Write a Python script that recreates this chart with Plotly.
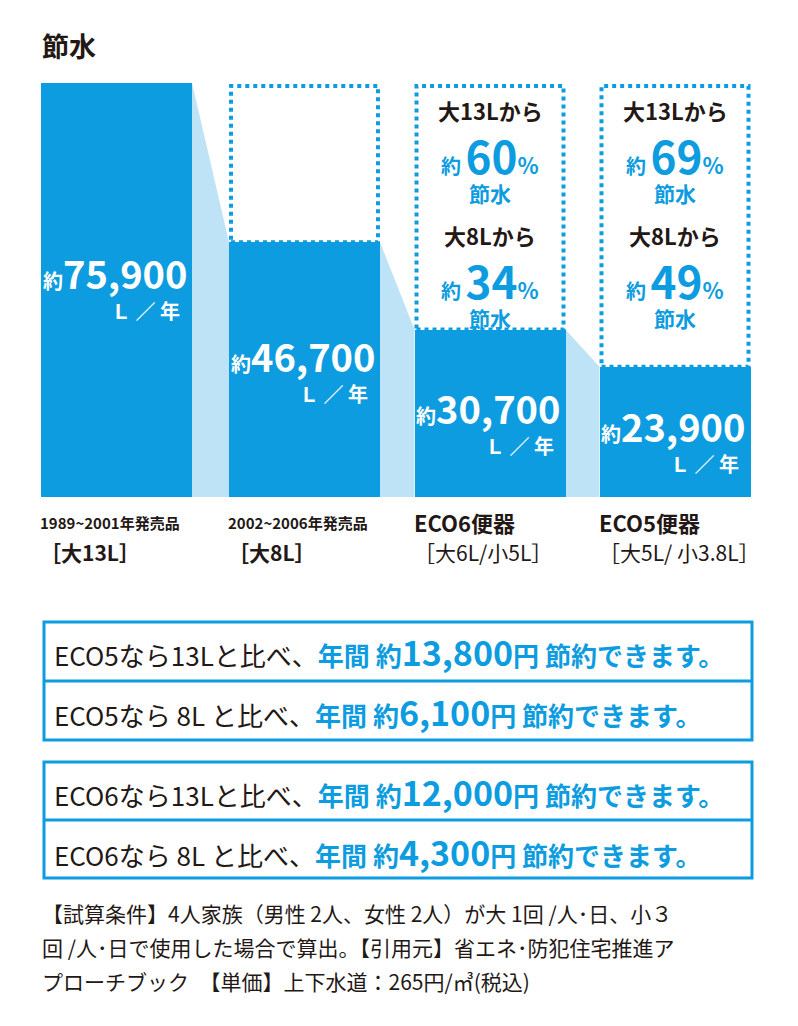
import plotly.graph_objects as go

categories = ["1989~2001年発売品", "2002~2006年発売品", "ECO6便器", "ECO5便器"]
sublabels = ["［大13L］", "［大8L］", "［大6L/小5L］", "［大5L/ 小3.8L］"]
usage = [75900, 46700, 30700, 23900]
save13 = [None, None, 60, 69]
save8 = [None, None, 34, 49]
lines = [
    ("ECO5なら13Lと比べ、", "13,800", "円"),
    ("ECO5なら 8L と比べ、", "6,100", "円"),
    ("ECO6なら13Lと比べ、", "12,000", "円"),
    ("ECO6なら 8L と比べ、", "4,300", "円"),
]

W, H = 798, 1026
OFF = 8  # page body margin
BASE, TOP = 497, 83
SCALE = (BASE - TOP) / usage[0]
def py(p):  # pixel row -> data value
    return (BASE - p) / SCALE

BLUE = "#0e9ce0"
LIGHT = "#bfe3f6"
DARK = "#231815"
FONT = "Noto Sans CJK JP"
xc = [116.5, 304.5, 490, 675]
bw = 151

fig = go.Figure()
shapes, ann = [], []

for i in range(3):
    x0 = xc[i] + bw / 2
    x1 = xc[i + 1] - bw / 2
    shapes.append(dict(type="path", xref="x", yref="y",
        path=f"M{x0},{usage[i]} L{x1},{usage[i+1]} L{x1},0 L{x0},0 Z",
        fillcolor=LIGHT, line=dict(width=0), layer="below"))

fig.add_trace(go.Bar(x=xc, y=usage, width=bw, marker=dict(color=BLUE, line=dict(width=0)),
                     hoverinfo="skip"))

for i in range(1, 4):
    shapes.append(dict(type="rect", xref="x", yref="y", x0=xc[i] - bw / 2 + 2, x1=xc[i] + bw / 2 - 2,
                       y0=usage[i], y1=py(86), line=dict(color=BLUE, width=4, dash="dot")))

mids = [272, 355, 407, 425]
for i, v in enumerate(usage):
    mid = mids[i]
    ann.append(dict(x=xc[i] - 2, y=py(mid), xref="x", yref="y", showarrow=False,
        text=f"<span style='font-size:20px'>約</span>{v:,}", font=dict(size=38, color="white", family=FONT, weight="bold")))
    ann.append(dict(x=xc[i] + bw / 2 - 10, y=py(mid + 38), xref="x", yref="y", showarrow=False, xanchor="right",
        text="Ｌ ／ 年", font=dict(size=20, color="white", family=FONT, weight="bold")))
    ann.append(dict(x=xc[i] - bw / 2 - 3, y=py(522), xref="x", yref="y", showarrow=False, xanchor="left",
        text=categories[i], font=dict(size=22 if i >= 2 else 15, color=DARK, family=FONT, weight="bold")))
    ann.append(dict(x=xc[i] - bw / 2 - 3, y=py(552), xref="x", yref="y", showarrow=False, xanchor="left",
        text=sublabels[i], font=dict(size=21, color=DARK, family=FONT, weight="bold" if i < 2 else None)))

for i in (2, 3):
    for base_y, src, pct in ((110, "大13Lから", save13[i]), (235, "大8Lから", save8[i])):
        ann.append(dict(x=xc[i], y=py(base_y), xref="x", yref="y", showarrow=False,
            text=src, font=dict(size=22, color=DARK, family=FONT, weight="bold")))
        ann.append(dict(x=xc[i], y=py(base_y + 45), xref="x", yref="y", showarrow=False,
            text=f"<span style='font-size:20px'>約 </span>{pct}<span style='font-size:22px'>%</span>",
            font=dict(size=44, color=BLUE, family=FONT, weight="bold")))
        ann.append(dict(x=xc[i], y=py(base_y + 83), xref="x", yref="y", showarrow=False,
            text="節水", font=dict(size=21, color=BLUE, family=FONT, weight="bold")))

ann.append(dict(x=40, y=py(45), xref="x", yref="y", showarrow=False, xanchor="left",
    text="節水", font=dict(size=27, color=DARK, family=FONT, weight="bold")))

for (t0, t1, mid) in ((622, 740, 681), (762, 878, 820)):
    shapes.append(dict(type="rect", xref="x", yref="y", x0=44, x1=752, y0=py(t0), y1=py(t1),
                       line=dict(color=BLUE, width=3)))
    shapes.append(dict(type="line", xref="x", yref="y", x0=44, x1=752, y0=py(mid), y1=py(mid),
                       line=dict(color=BLUE, width=3)))
rows = [651, 711, 791, 851]
for (a, n, u), r in zip(lines, rows):
    ann.append(dict(x=52, y=py(r), xref="x", yref="y", showarrow=False, xanchor="left",
        text=(f"<span style='color:{DARK}'>{a}</span><b>年間 約<span style='font-size:34px'>{n}</span>円 節約できます。</b>"),
        font=dict(size=26, color=BLUE, family=FONT)))

note = ["【試算条件】4人家族（男性 2人、女性 2人）が大 1回 /人･日、小３",
        "回 /人･日で使用した場合で算出。【引用元】省エネ･防犯住宅推進ア",
        "プローチブック　【単価】上下水道：265円/㎥(税込)"]
for k, t in enumerate(note):
    ann.append(dict(x=40, y=py(913 + k * 34), xref="x", yref="y", showarrow=False, xanchor="left",
        text=t, font=dict(size=21, color=DARK, family=FONT)))

fig.update_layout(width=W, height=H, margin=dict(l=0, r=0, t=0, b=0),
    paper_bgcolor="white", plot_bgcolor="white", showlegend=False,
    shapes=shapes, annotations=ann, bargap=0,
    xaxis=dict(range=[OFF, W + OFF], visible=False, fixedrange=True),
    yaxis=dict(range=[py(H + OFF), py(OFF)], visible=False, fixedrange=True))
fig.write_html("out.html")
